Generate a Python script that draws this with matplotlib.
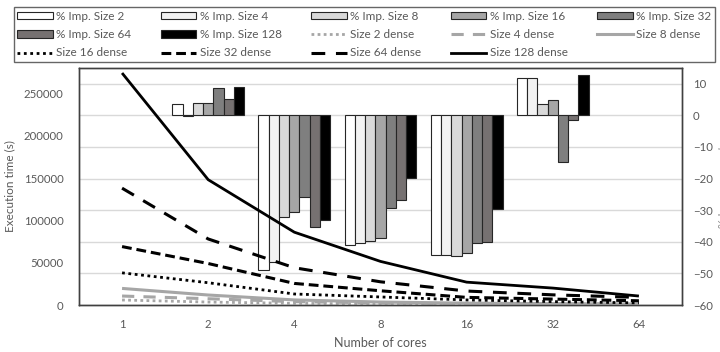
import numpy as np
import matplotlib
matplotlib.use("Agg")
import matplotlib.pyplot as plt
from matplotlib.patches import Patch
from matplotlib.lines import Line2D

plt.rcParams['font.family'] = ['Lato', 'DejaVu Sans']

cores = ["1", "2", "4", "8", "16", "32", "64"]
nan = np.nan

# % improvement per matrix size (right axis)
imp_size2 = [nan, 3.7, -48.8, -41.1, -44.1, 11.8, nan]
imp_size4 = [nan, -0.3, -46.4, -40.4, -44.1, 11.8, nan]
imp_size8 = [nan, 3.9, -32.2, -39.6, -44.6, 3.7, nan]
imp_size16 = [nan, 3.9, -30.6, -38.8, -43.6, 4.7, nan]
imp_size32 = [nan, 8.8, -25.8, -29.2, -40.4, -14.6, nan]
imp_size64 = [nan, 5.1, -35.3, -26.9, -40.1, -1.4, nan]
imp_size128 = [nan, 9.0, -33.2, -19.7, -29.5, 12.9, nan]

# execution time of the dense version (left axis, seconds)
dense2 = [5900, 3500, 2000, 1200, 800, 600, 500]
dense4 = [10600, 7400, 4000, 2500, 1600, 1200, 900]
dense8 = [19600, 11800, 6000, 3500, 2200, 1600, 1200]
dense16 = [38000, 26300, 13000, 9500, 6000, 4000, 2500]
dense32 = [69000, 49000, 25500, 16800, 9000, 7000, 5000]
dense64 = [138000, 78000, 44000, 27400, 16500, 12000, 9000]
dense128 = [274000, 148000, 86000, 51500, 27000, 20000, 10600]

bar_series = [
    ("% Imp. Size 2", imp_size2, "#ffffff"),
    ("% Imp. Size 4", imp_size4, "#f2f2f2"),
    ("% Imp. Size 8", imp_size8, "#d9d9d9"),
    ("% Imp. Size 16", imp_size16, "#a6a6a6"),
    ("% Imp. Size 32", imp_size32, "#7f7f7f"),
    ("% Imp. Size 64", imp_size64, "#767171"),
    ("% Imp. Size 128", imp_size128, "#000000"),
]

line_series = [
    ("Size 2 dense", dense2, "#a6a6a6", (0, (1, 1.2)), 2.0),
    ("Size 4 dense", dense4, "#a6a6a6", (0, (4, 3)), 2.2),
    ("Size 8 dense", dense8, "#a6a6a6", "-", 2.2),
    ("Size 16 dense", dense16, "#000000", (0, (1, 1.3)), 2.0),
    ("Size 32 dense", dense32, "#000000", (0, (3.2, 1.6)), 2.2),
    ("Size 64 dense", dense64, "#000000", (0, (4.5, 3.5)), 2.2),
    ("Size 128 dense", dense128, "#000000", "-", 2.0),
]

text_color = "#595959"
fig = plt.figure(figsize=(7.2, 3.52), dpi=100)
ax_bar = fig.add_axes([0.1097, 0.1335, 0.8375, 0.6735])
ax_line = ax_bar.twinx()

x = np.arange(len(cores))
w = 0.119
handles = {}
for j, (name, vals, col) in enumerate(bar_series):
    ax_bar.bar(x + (j - 3) * w, vals, width=w, color=col,
               edgecolor="#262626", linewidth=0.8, zorder=2)
    handles[name] = Patch(facecolor=col, edgecolor="#262626", linewidth=0.8)

for name, vals, col, ls, lw in line_series:
    ax_line.plot(x, vals, color=col, linestyle=ls, linewidth=lw,
                 solid_capstyle="butt", dash_capstyle="butt")
    handles[name] = Line2D([], [], color=col, linestyle=ls, linewidth=lw)

# bar axis on the right, line axis on the left
ax_bar.yaxis.tick_right()
ax_bar.yaxis.set_label_position("right")
ax_line.yaxis.tick_left()
ax_line.yaxis.set_label_position("left")

ax_bar.set_ylim(-60, 15)
ax_bar.set_yticks(np.arange(-60, 11, 10))
ax_bar.grid(axis="y", color="#d9d9d9", linewidth=1.0, zorder=0)
ax_bar.set_axisbelow(True)
ax_line.set_ylim(0, 280000)
ax_line.set_yticks(np.arange(0, 250001, 50000))
ax_bar.set_xlim(-0.5, 6.5)
ax_bar.set_xticks(x)
ax_bar.set_xticklabels(cores)

for a in (ax_bar, ax_line):
    a.tick_params(length=0, labelsize=8.2, labelcolor=text_color)
    for s in a.spines.values():
        s.set_color("#404040")
        s.set_linewidth(1.0)
ax_bar.tick_params(axis="x", pad=10)
ax_bar.tick_params(axis="y", pad=8)
ax_line.tick_params(axis="y", pad=11)

ax_line.set_ylabel("Execution time (s)", fontsize=8.5, color=text_color, labelpad=6)
ax_bar.set_xlabel("Number of cores", fontsize=9, color=text_color, labelpad=5)
fig.text(0.9975, 0.47, "% Improvement", rotation=90, fontsize=8.5,
         color="#8c8c8c", ha="left", va="center")

order = [b[0] for b in bar_series] + [l[0] for l in line_series]
col_major = [order[r * 5 + c] for c in range(5) for r in range(3) if r * 5 + c < len(order)]
leg = fig.legend([handles[n] for n in col_major], col_major, ncol=5,
                 loc="upper left", bbox_to_anchor=(0.019, 0.98, 0.974, 0.0),
                 mode="expand", fontsize=8.5, frameon=True, fancybox=False,
                 edgecolor="#404040", handlelength=3.0, handleheight=0.55,
                 handletextpad=0.3, columnspacing=1.0, labelspacing=0.62,
                 borderpad=0.32, borderaxespad=0.0, labelcolor=text_color)
leg.get_frame().set_linewidth(1.0)

fig.savefig("out.png", dpi=100)
